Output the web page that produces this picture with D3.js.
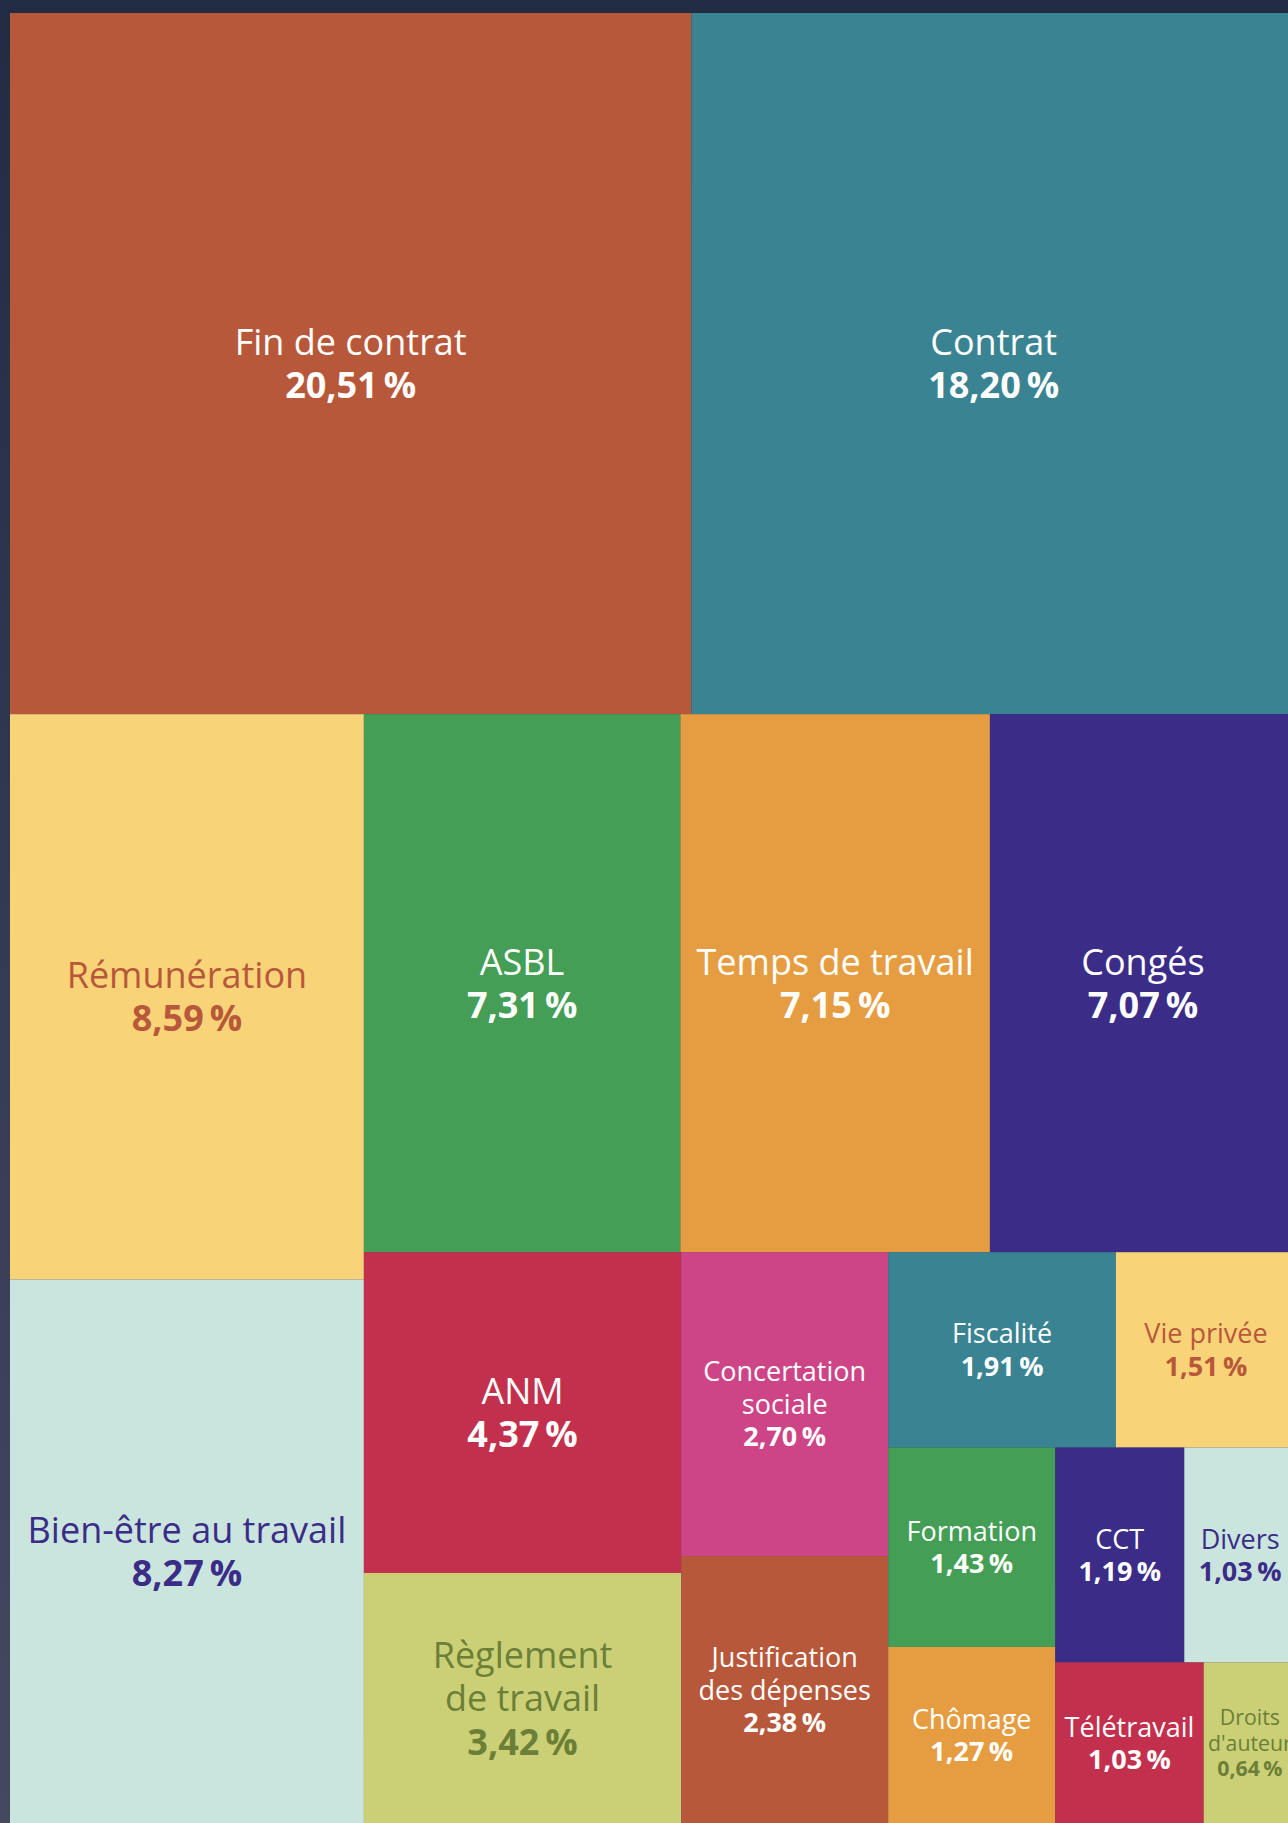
<!DOCTYPE html>
<html><head><meta charset="utf-8">
<script src="https://cdn.jsdelivr.net/npm/d3@7"></script>
<style>
html,body{margin:0;padding:0;width:1288px;height:1823px;overflow:hidden;background:linear-gradient(to bottom,#212c43 0%,#333a53 50%,#444960 100%);}
svg{display:block;font-family:"Open Sans","Noto Sans",sans-serif;}
</style></head><body><svg id="chart" width="1288" height="1823"></svg>
<script>
// ---- data ----
const categories = ["Fin de contrat","Contrat","Rémunération","Bien-être au travail","ASBL","Temps de travail","Congés","ANM","Règlement de travail","Concertation sociale","Justification des dépenses","Fiscalité","Vie privée","Divers","Formation","Chômage","CCT","Télétravail","Droits d'auteur"];
const values = [20.51,18.20,8.59,8.27,7.31,7.15,7.07,4.37,3.42,2.70,2.38,1.91,1.51,1.03,1.43,1.27,1.19,1.03,0.64];

// ---- styles (colour cycle applied by input order) ----
const paletteBg = ["#b8583b","#3a8392","#f9d378","#cae5de","#449e55","#e69d41","#3b2c87","#c3304d","#cbd077","#ce4587"];
const paletteFg = ["#ffffff","#ffffff","#b8583b","#3b2c87","#ffffff","#ffffff","#ffffff","#ffffff","#6b7f37","#ffffff"];

// ---- layout: number of items per strip, strips laid on the shorter side ----
const stripSizes = [2,2,3,2,2,2,2,2,1,1];

const X0 = 10, Y0 = 13, W = 1286, H = 1811;
const svg = d3.select("#chart");
const g = svg.append("g").attr("transform", `translate(${X0},${Y0})`);

const fr = d3.formatLocale({decimal:",", thousands:"\u202f", grouping:[3], currency:["","\u00a0€"]});
const fmt = v => fr.format(".2f")(v) + "\u2009%";

function stripTile(parent, x0, y0, x1, y1){
  const nodes = parent.children;
  let i = 0, s = 0, remaining = parent.value;
  while (i < nodes.length){
    const k = stripSizes[s++] || (nodes.length - i);
    const kids = nodes.slice(i, i + k);
    const row = {children: kids, value: d3.sum(kids, d => d.value)};
    const dx = x1 - x0, dy = y1 - y0;
    if (dx < dy){
      const y = remaining ? y0 + dy * row.value / remaining : y1;
      d3.treemapDice(row, x0, y0, x1, y);
      y0 = y;
    } else {
      const x = remaining ? x0 + dx * row.value / remaining : x1;
      d3.treemapSlice(row, x0, y0, x, y1);
      x0 = x;
    }
    remaining -= row.value;
    i += k;
  }
}

const root = d3.hierarchy({children: categories.map((c,i)=>({name:c, value:values[i], idx:i}))})
  .sum(d => d.value || 0)
  .sort((a,b) => b.value - a.value);
d3.treemap().tile(stripTile).size([W,H]).paddingInner(0)(root);

const cells = g.selectAll("g.cell").data(root.leaves()).join("g").attr("class","cell");
cells.append("rect")
  .attr("x", d => d.x0).attr("y", d => d.y0)
  .attr("width", d => d.x1 - d.x0).attr("height", d => d.y1 - d.y0)
  .attr("fill", d => paletteBg[d.data.idx % paletteBg.length]);

function fontSize(v){ return v >= 3 ? 36 : (v >= 1 ? 27 : 21.3); }

const measurer = svg.append("text").attr("visibility","hidden");
function measure(txt, fs, weight){
  measurer.attr("font-size", fs).attr("font-weight", weight).text(txt);
  return measurer.node().getComputedTextLength();
}
// balanced wrapping: fewest lines that fit, then the most even split
function splits(n, k){
  if (k === 1) return [[n]];
  const out = [];
  for (let a = 1; a <= n - k + 1; a++) splits(n - a, k - 1).forEach(r => out.push([a].concat(r)));
  return out;
}
function wrap(txt, fs, maxW){
  const words = txt.split(" ");
  if (words.length === 1 || measure(txt, fs, 400) <= maxW) return [txt];
  let best = null;
  for (let k = 2; k <= words.length; k++){
    best = null;
    splits(words.length, k).forEach(sz => {
      let p = 0; const lines = [];
      sz.forEach(c => { lines.push(words.slice(p, p + c).join(" ")); p += c; });
      const mw = d3.max(lines, l => measure(l, fs, 400));
      if (!best || mw < best.mw) best = {mw, lines};
    });
    if (best.mw <= maxW) return best.lines;
  }
  return best.lines;
}

cells.each(function(d){
  const fs = fontSize(d.data.value);
  const w = d.x1 - d.x0;
  const lines = wrap(d.data.name, fs, w - 16);
  const all = lines.map(l => ({t:l, bold:false})).concat([{t:fmt(d.data.value), bold:true}]);
  const lh = fs * 1.2;
  const cx = (d.x0 + d.x1)/2, cy = (d.y0 + d.y1)/2;
  const top = cy - all.length*lh/2;
  const txt = d3.select(this).append("text")
    .attr("text-anchor","middle")
    .attr("font-size", fs)
    .attr("fill", paletteFg[d.data.idx % paletteFg.length]);
  all.forEach((ln,i) => {
    txt.append("tspan").attr("x", cx).attr("y", top + lh*i + lh/2 + fs*0.36)
      .attr("font-weight", ln.bold ? 700 : 400).text(ln.t);
  });
});
measurer.remove();
</script></body></html>
